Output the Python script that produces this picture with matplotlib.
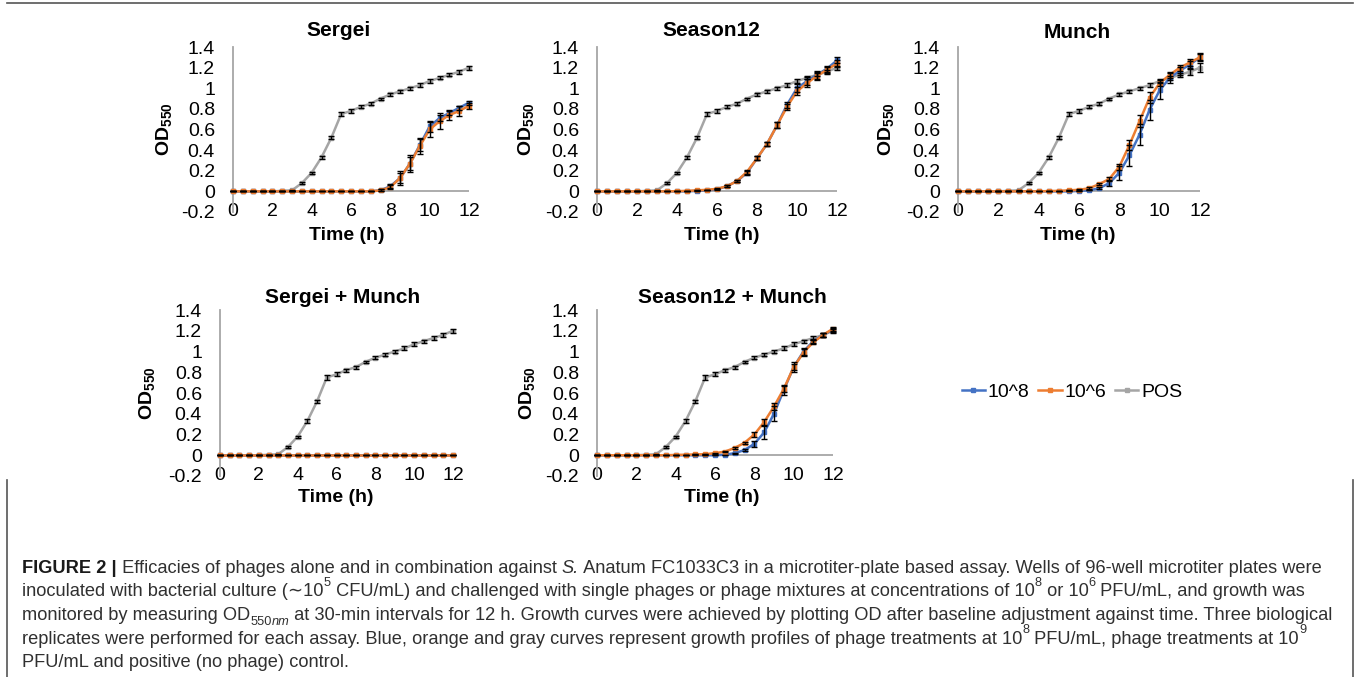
import matplotlib
matplotlib.use("Agg")
import matplotlib.pyplot as plt
from matplotlib import font_manager
from matplotlib.ticker import FuncFormatter
from matplotlib.lines import Line2D

# data: OD550 every 30 min, 0-12 h
time_h = [0, 0.5, 1, 1.5, 2, 2.5, 3, 3.5, 4, 4.5, 5, 5.5, 6, 6.5, 7, 7.5, 8, 8.5,
          9, 9.5, 10, 10.5, 11, 11.5, 12]
x_ticks = [0, 2, 4, 6, 8, 10, 12]
y_ticks = [-0.2, 0, 0.2, 0.4, 0.6, 0.8, 1, 1.2, 1.4]
series_names = ["10^8", "10^6", "POS"]

pos = [0, 0, 0, 0, 0, 0.005, 0.01, 0.08, 0.18, 0.33, 0.52, 0.75, 0.78, 0.82, 0.85,
       0.90, 0.94, 0.97, 1.00, 1.03, 1.07, 1.10, 1.13, 1.16, 1.20]
pos_err = [0, 0, 0, 0, 0, 0, 0.005, 0.01, 0.01, 0.015, 0.015, 0.02, 0.02, 0.015, 0.015,
           0.01, 0.015, 0.015, 0.015, 0.02, 0.02, 0.015, 0.015, 0.02, 0.02]
pos_err_munch = [0, 0, 0, 0, 0, 0, 0.005, 0.01, 0.01, 0.015, 0.015, 0.02, 0.02, 0.015, 0.015,
                 0.01, 0.015, 0.015, 0.015, 0.02, 0.02, 0.02, 0.02, 0.03, 0.04]

sergei_8 = [0, 0, 0, 0, 0, 0, 0, 0, 0, 0, 0, 0, 0, 0, 0, 0.01, 0.05, 0.13, 0.27, 0.45,
            0.63, 0.71, 0.76, 0.81, 0.86]
sergei_8_err = [0, 0, 0, 0, 0, 0, 0, 0, 0, 0, 0, 0, 0, 0, 0, 0.01, 0.02, 0.05, 0.06, 0.06,
                0.05, 0.03, 0.02, 0.02, 0.02]
sergei_6 = [0, 0, 0, 0, 0, 0, 0, 0, 0, 0, 0, 0, 0, 0, 0, 0.01, 0.04, 0.13, 0.27, 0.44,
            0.60, 0.68, 0.74, 0.78, 0.83]
sergei_6_err = [0, 0, 0, 0, 0, 0, 0, 0, 0, 0, 0, 0, 0, 0, 0, 0.01, 0.02, 0.07, 0.08, 0.08,
                0.07, 0.08, 0.05, 0.05, 0.03]

season_8 = [0, 0, 0, 0, 0, 0, 0, 0, 0, 0, 0.005, 0.01, 0.02, 0.05, 0.10, 0.18, 0.32, 0.46,
            0.64, 0.84, 1.00, 1.07, 1.13, 1.19, 1.27]
season_8_err = [0, 0, 0, 0, 0, 0, 0, 0, 0, 0, 0, 0, 0.005, 0.01, 0.01, 0.02, 0.02, 0.02,
                0.03, 0.03, 0.04, 0.04, 0.04, 0.03, 0.03]
season_6 = [0, 0, 0, 0, 0, 0, 0, 0, 0.002, 0.005, 0.01, 0.015, 0.025, 0.05, 0.10, 0.19,
            0.32, 0.46, 0.64, 0.82, 0.97, 1.05, 1.12, 1.18, 1.24]
season_6_err = [0, 0, 0, 0, 0, 0, 0, 0, 0, 0, 0, 0, 0.005, 0.01, 0.01, 0.02, 0.02, 0.02,
                0.03, 0.03, 0.04, 0.04, 0.04, 0.03, 0.03]

munch_8 = [0, 0, 0, 0, 0, 0, 0, 0, 0, 0, 0, 0, 0.005, 0.01, 0.03, 0.08, 0.18, 0.35, 0.55,
           0.79, 0.98, 1.10, 1.17, 1.23, 1.30]
munch_8_err = [0, 0, 0, 0, 0, 0, 0, 0, 0, 0, 0, 0, 0, 0, 0.01, 0.03, 0.07, 0.10, 0.10,
               0.10, 0.08, 0.05, 0.04, 0.03, 0.04]
munch_6 = [0, 0, 0, 0, 0, 0, 0, 0, 0, 0.003, 0.005, 0.01, 0.015, 0.03, 0.07, 0.12, 0.24,
           0.45, 0.68, 0.91, 1.05, 1.13, 1.20, 1.25, 1.30]
munch_6_err = [0, 0, 0, 0, 0, 0, 0, 0, 0, 0, 0, 0, 0.005, 0.01, 0.01, 0.02, 0.03, 0.05,
               0.06, 0.05, 0.03, 0.03, 0.03, 0.03, 0.03]

sm_8 = [0] * 25
sm_6 = [0] * 25
sm_err = [0] * 25

s12m_8 = [0, 0, 0, 0, 0, 0, 0, 0, 0, 0, 0, 0, 0, 0.005, 0.02, 0.05, 0.11, 0.22, 0.40,
          0.63, 0.85, 1.00, 1.10, 1.16, 1.21]
s12m_8_err = [0, 0, 0, 0, 0, 0, 0, 0, 0, 0, 0, 0, 0, 0, 0.005, 0.01, 0.03, 0.06, 0.07,
              0.05, 0.05, 0.03, 0.02, 0.02, 0.02]
s12m_6 = [0, 0, 0, 0, 0, 0, 0, 0, 0.003, 0.005, 0.008, 0.01, 0.02, 0.035, 0.07, 0.12,
          0.20, 0.32, 0.47, 0.64, 0.85, 0.99, 1.09, 1.16, 1.22]
s12m_6_err = [0, 0, 0, 0, 0, 0, 0, 0, 0, 0, 0, 0, 0.005, 0.005, 0.01, 0.01, 0.02, 0.03,
              0.03, 0.03, 0.03, 0.03, 0.02, 0.02, 0.02]

panels = [
    ("Sergei", sergei_8, sergei_8_err, sergei_6, sergei_6_err, pos, pos_err),
    ("Season12", season_8, season_8_err, season_6, season_6_err, pos, pos_err),
    ("Munch", munch_8, munch_8_err, munch_6, munch_6_err, pos, pos_err_munch),
    ("Sergei + Munch", sm_8, sm_err, sm_6, sm_err, pos, pos_err),
    ("Season12 + Munch", s12m_8, s12m_8_err, s12m_6, s12m_6_err, pos, pos_err),
]

caption = [
    [("FIGURE 2 |", "b"), (" Efficacies of phages alone and in combination against ", "r"),
     ("S.", "i"), (" Anatum FC1033C3 in a microtiter-plate based assay. Wells of 96-well microtiter plates were", "r")],
    [("inoculated with bacterial culture (\u223c10", "r"), ("5", "sup"),
     (" CFU/mL) and challenged with single phages or phage mixtures at concentrations of 10", "r"),
     ("8", "sup"), (" or 10", "r"), ("6", "sup"), (" PFU/mL, and growth was", "r")],
    [("monitored by measuring OD", "r"), ("550", "sub"), ("nm", "subi"),
     (" at 30-min intervals for 12 h. Growth curves were achieved by plotting OD after baseline adjustment against time. Three biological", "r")],
    [("replicates were performed for each assay. Blue, orange and gray curves represent growth profiles of phage treatments at 10", "r"),
     ("8", "sup"), (" PFU/mL, phage treatments at 10", "r"), ("9", "sup")],
    [("PFU/mL and positive (no phage) control.", "r")],
]

# layout (pixels from top-left)
W, H = 1357, 677
axes_px = [(233, 469, 47, 212), (597, 837, 47, 212), (958, 1200, 47, 212),
           (220, 453, 310, 476), (597, 833, 310, 476)]
title_px = [(339, 31), (711, 31), (1077, 32), (343, 297), (732, 297)]
xlabel_px = [(347, 235), (722, 235), (1078, 236), (336, 497), (722, 497)]
ylabel_x = [175, 537, 897, 158, 538]
cap_left, cap_right1 = 22, 1318
line_y = [568, 591.5, 615, 638.5, 662]

blue, orange, gray = "#4472C4", "#ED7D31", "#A5A5A5"
axis_gray = "#A6A6A6"

plt.rcParams["font.family"] = ["Liberation Sans", "DejaVu Sans"]
plt.rcParams["mathtext.fontset"] = "custom"
plt.rcParams["mathtext.rm"] = "Liberation Sans"
plt.rcParams["mathtext.bf"] = "Liberation Sans:bold"

names = {f.name for f in font_manager.fontManager.ttflist}
cap_family = ["Liberation Sans Narrow", "DejaVu Sans"] if "Liberation Sans Narrow" in names \
    else ["Liberation Sans", "DejaVu Sans"]

fig = plt.figure(figsize=(W / 100, H / 100), dpi=100)


def fx(x):
    return x / W


def fy(y):
    return 1 - y / H


def ytick_fmt(v, _):
    v = round(v, 1)
    return "0" if v == 0 else f"{v:g}"


for i, (name, v8, e8, v6, e6, vp, ep) in enumerate(panels):
    x0, x1, yt, yb = axes_px[i]
    ax = fig.add_axes([fx(x0), fy(yb), fx(x1 - x0), (yb - yt) / H])
    ax.set_xlim(0, 12)
    ax.set_ylim(-0.2, 1.4)
    for s in ["top", "right", "bottom"]:
        ax.spines[s].set_visible(False)
    ax.spines["left"].set_color(axis_gray)
    ax.spines["left"].set_linewidth(1.3)
    ax.axhline(0, color=axis_gray, lw=1.3, zorder=1)
    ax.set_xticks(x_ticks)
    ax.set_yticks(y_ticks)
    ax.yaxis.set_major_formatter(FuncFormatter(ytick_fmt))
    ax.tick_params(axis="both", length=0, labelsize=14)
    ax.tick_params(axis="y", pad=13)
    ax.tick_params(axis="x", pad=0)
    for lab in ax.get_xticklabels():
        lab.set_va("center")

    for vals, errs, col, lab in [(vp, ep, gray, series_names[2]),
                                 (v8, e8, blue, series_names[0]),
                                 (v6, e6, orange, series_names[1])]:
        ax.plot(time_h, vals, color=col, lw=1.8, marker="s", ms=2.2,
                clip_on=False, zorder=3, label=lab)
        eb = ax.errorbar(time_h, vals, yerr=errs, fmt="none", ecolor="black",
                         elinewidth=1.0, capsize=2.2, capthick=1.0, zorder=4)
        for a in eb.get_children():
            a.set_clip_on(False)

    ax.set_ylabel(r"$\mathbf{OD}_{\mathbf{550}}$", fontsize=14)
    ax.yaxis.set_label_coords((ylabel_x[i] - x0) / (x1 - x0), 0.5)
    fig.text(fx(title_px[i][0]), fy(title_px[i][1]), name, ha="center", va="center",
             fontsize=15, fontweight="bold")
    fig.text(fx(xlabel_px[i][0]), fy(xlabel_px[i][1]), "Time (h)", ha="center",
             va="center", fontsize=14, fontweight="bold")

handles = [Line2D([], [], color=c, lw=1.8, marker="s", ms=2.2) for c in (blue, orange, gray)]
fig.legend(handles, series_names, loc="center", bbox_to_anchor=(fx(1072), fy(392)),
           ncol=3, frameon=False, fontsize=14, handlelength=1.2, handletextpad=0.15,
           columnspacing=0.45)

# caption, drawn run by run
renderer = fig.canvas.get_renderer()


def draw_line(runs, yy, size):
    x = cap_left
    made = []
    for text, style in runs:
        kw = dict(fontsize=size, family=cap_family, color="#303030",
                  ha="left", va="baseline")
        dy = 0
        if style == "b":
            kw["fontweight"] = "bold"
            kw["color"] = "#1a1a1a"
        elif style == "i":
            kw["fontstyle"] = "italic"
        elif style == "sup":
            kw["fontsize"] = size * 0.7
            dy = -size * 0.55
        elif style in ("sub", "subi"):
            kw["fontsize"] = size * 0.7
            dy = size * 0.25
            if style == "subi":
                kw["fontstyle"] = "italic"
        t = fig.text(fx(x), fy(yy + 5 + dy * 100 / 72), text, **kw)
        made.append(t)
        x += t.get_window_extent(renderer=renderer).width
    return made, x


# fit the first caption line to the width it has in the figure
trial, end = draw_line(caption[0], line_y[0], 11.0)
for t in trial:
    t.remove()
cap_size = 11.0 * (cap_right1 - cap_left) / (end - cap_left)
for runs, yy in zip(caption, line_y):
    draw_line(runs, yy, cap_size)

# frame round figure and caption
frame_col = "#555555"
fig.add_artist(Line2D([fx(7), fx(1353)], [fy(3), fy(3)], color=frame_col, lw=1.2))
fig.add_artist(Line2D([fx(7), fx(7)], [fy(480), fy(H + 5)], color=frame_col, lw=1.2))
fig.add_artist(Line2D([fx(1353), fx(1353)], [fy(480), fy(H + 5)], color=frame_col, lw=1.2))

fig.savefig("out.png", dpi=100)
